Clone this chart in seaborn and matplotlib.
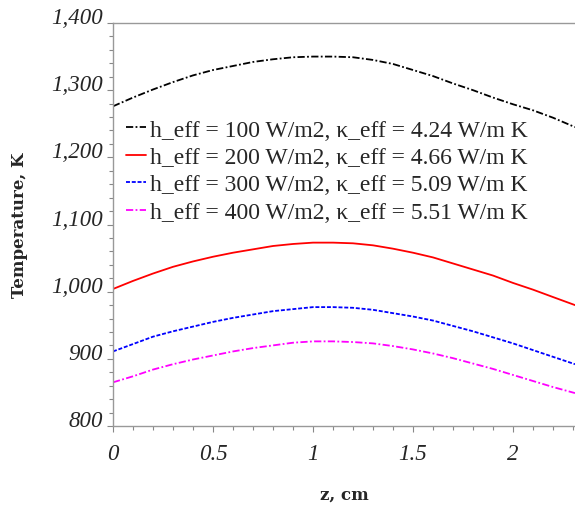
import numpy as np
import pandas as pd
import matplotlib
matplotlib.use("Agg")
import matplotlib.pyplot as plt
import seaborn as sns
from matplotlib.ticker import MultipleLocator, FuncFormatter

# ---- data ----
z = [0.0, 0.1, 0.2, 0.3, 0.4, 0.5, 0.6, 0.7, 0.8, 0.9, 1.0, 1.1,
     1.2, 1.3, 1.4, 1.5, 1.6, 1.7, 1.8, 1.9, 2.0, 2.1, 2.2, 2.31]
T_100 = [1276, 1289, 1301, 1312, 1322, 1330, 1336, 1342, 1346, 1349, 1350, 1350,
         1349, 1345, 1339, 1330, 1321, 1310, 1300, 1289, 1279, 1270, 1259, 1245]
T_200 = [1004, 1016, 1027, 1037, 1045, 1052, 1058, 1063, 1068, 1071, 1073, 1073,
         1072, 1069, 1064, 1058, 1051, 1042, 1033, 1024, 1013, 1003, 992, 980]
T_300 = [911, 922, 933, 941, 948, 955, 961, 966, 971, 974, 977, 977,
         976, 973, 968, 963, 957, 949, 941, 932, 923, 913, 903, 892]
T_400 = [865, 874, 884, 892, 899, 905, 911, 916, 920, 924, 926, 926,
         925, 923, 919, 914, 908, 901, 893, 885, 876, 867, 858, 849]
labels = [
    "h_eff = 100 W/m2, \u03ba_eff = 4.24 W/m K",
    "h_eff = 200 W/m2, \u03ba_eff = 4.66 W/m K",
    "h_eff = 300 W/m2, \u03ba_eff = 5.09 W/m K",
    "h_eff = 400 W/m2, \u03ba_eff = 5.51 W/m K",
]
series = [T_100, T_200, T_300, T_400]
colors = ["#000000", "#ff0000", "#0000ff", "#ff00ff"]
dash_styles = [(4, 1.3, 1, 1.3), "", (2.2, 1), (4, 1.3, 1, 1.3)]

df = pd.concat(
    [pd.DataFrame({"z": z, "T": s, "case": lab}) for s, lab in zip(series, labels)],
    ignore_index=True,
)

sns.set_style("white")
plt.rcParams["font.family"] = ["Liberation Serif", "DejaVu Serif"]

fig = plt.figure(figsize=(5.75, 5.06), dpi=100)
ax = fig.add_axes([113 / 575, 1 - 427 / 506, 1 - 113 / 575, (427 - 24) / 506])

sns.lineplot(
    data=df, x="z", y="T", hue="case", style="case",
    palette=dict(zip(labels, colors)),
    dashes=dict(zip(labels, dash_styles)),
    linewidth=1.3, ax=ax, legend=True,
)

ax.set_xlim(0, 2.31)
ax.set_ylim(800, 1400)
ax.xaxis.set_major_locator(MultipleLocator(0.5))
ax.xaxis.set_minor_locator(MultipleLocator(0.1))
ax.yaxis.set_major_locator(MultipleLocator(100))
ax.yaxis.set_minor_locator(MultipleLocator(20))
ax.xaxis.set_major_formatter(FuncFormatter(lambda v, p: ("%g" % v)))
ax.yaxis.set_major_formatter(FuncFormatter(lambda v, p: f"{int(v):,}"))

for side in ["left", "bottom", "top"]:
    ax.spines[side].set_color("#999999")
    ax.spines[side].set_linewidth(1.0)
ax.spines["right"].set_visible(False)

ax.tick_params(axis="both", which="both", direction="out", color="#888888",
               bottom=True, left=True, top=False, right=False)
ax.tick_params(axis="both", which="major", length=4, width=0.8)
ax.tick_params(axis="both", which="minor", length=3, width=0.8)
ax.tick_params(axis="x", which="major", pad=8)
ax.tick_params(axis="y", which="major", pad=3)
for t in ax.get_xticklabels() + ax.get_yticklabels():
    t.set_fontstyle("italic")
    t.set_fontsize(16.5)
for t in ax.get_yticklabels():
    t.set_verticalalignment("baseline")

ax.set_xlabel("z, cm", fontsize=12, fontweight="bold", family="DejaVu Serif", labelpad=16)
ax.set_ylabel("Temperature, K", fontsize=12, fontweight="bold", family="DejaVu Serif", labelpad=17)

leg = ax.legend(
    loc="upper left", bbox_to_anchor=(126 / 575, 1 - 120 / 506),
    bbox_transform=fig.transFigure, frameon=False,
    fontsize=17, handlelength=0.85, handletextpad=0.18, labelspacing=0.25,
    borderaxespad=0, borderpad=0,
)
for line in leg.get_lines():
    line.set_linewidth(1.3)

fig.savefig("out.png", dpi=100)
